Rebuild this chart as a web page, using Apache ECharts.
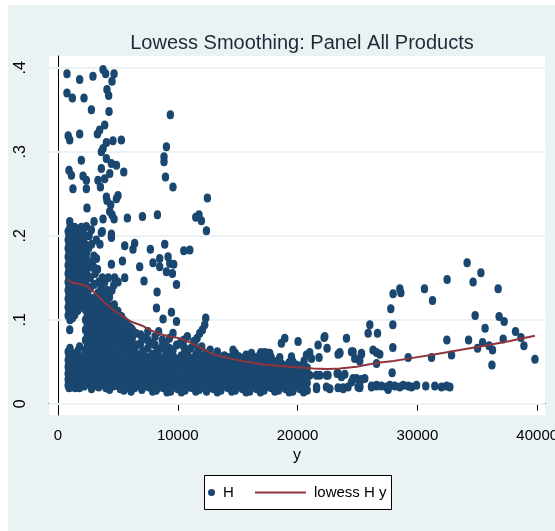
<!DOCTYPE html>
<html>
<head>
<meta charset="utf-8">
<script src="https://cdn.jsdelivr.net/npm/echarts@6/dist/echarts.min.js"></script>
<style>html,body{margin:0;padding:0;background:#fff}#c{width:555px;height:531px}</style>
</head>
<body>
<div id="c"></div>
<script>
// ---- tick labels ----
const xTicks = [0, 10000, 20000, 30000, 40000];
const yTicks = [0, 0.1, 0.2, 0.3, 0.4];
const yTickLabels = ['0', '.1', '.2', '.3', '.4'];

// ---- H: sparse upper points (y > .2) ----
const hUpper = [
 [750,.393],[1810,.386],[2920,.390],[3760,.398],[3980,.393],[4680,.393],[4510,.384],
 [750,.370],[1200,.364],[2170,.364],[4090,.374],[4230,.367],[2790,.350],[4260,.348],[9380,.344],
 [3900,.332],[3480,.326],[3290,.321],[1810,.321],[980,.314],[850,.319],[4040,.311],[4590,.313],[5290,.314],
 [3760,.304],[3620,.300],[9050,.306],[8850,.294],[8850,.288],
 [1950,.290],[4040,.292],[4460,.286],[4880,.284],[3620,.280],[920,.278],[1120,.272],[2090,.271],
 [2370,.266],[4320,.274],[5490,.276],[3340,.266],[3900,.268],
 [1250,.256],[2370,.256],[3540,.258],[8970,.270],[9600,.258],
 [4040,.246],[4090,.242],[5010,.248],[4880,.244],[4400,.237],[2420,.233],[4320,.229],[4510,.225],
 [4680,.220],[3760,.220],[3010,.217],[980,.217],[5790,.221],[7050,.223],[8300,.225],
 [11500,.222],[11770,.225],[11970,.218],[12470,.245],[12390,.206],
 [1950,.210],[2370,.211],[2790,.207],[1040,.205],[3620,.204],[4460,.202]
];

// ---- H: sparse points between .1 and .2 ----
const hUpperMid = [
 [4460,.198],[5570,.188],[6400,.191],[6260,.184],[7710,.184],[8910,.190],[10500,.182],[11000,.183],
 [8490,.173],[7930,.168],[9190,.175],[9330,.167],[9660,.166],[8490,.163],[9050,.157],[9550,.155],
 [6820,.163],[5380,.170],[4460,.166],[3210,.173],[2790,.163],[7180,.146],[9890,.142],[8270,.133],
 [5570,.150],[4730,.150],[4650,.141],[5010,.145],[8220,.114],[8770,.101],[9470,.109],[9890,.098],[980,.088],
 [12330,.102],[12250,.094],[12060,.088],[11830,.084],[11610,.078],[11330,.074],
 [2100,.205],[2600,.200],[2800,.190],[3200,.195],[3500,.190],[3700,.205],[2400,.180],[3000,.176],
 [2200,.170],[2300,.160],[2700,.150],[3100,.155],[3400,.145],[3600,.138],[2500,.133],[3800,.130],
 [4100,.135],[4300,.127],[2550,.185],[2900,.165],[3300,.160],[3700,.150],[3900,.145],[4200,.150],
 [4500,.135],[2650,.125],[3350,.132]
];

// ---- H: dense left column (x, list of y) ----
const hLeftCols = [
 [850,[.205,.195,.185,.175,.165,.155,.145,.135,.125,.115,.105]],
 [925,[.20,.19,.18,.17,.16,.15,.14,.13,.12,.11]],
 [1000,[.21,.20,.19,.18,.17,.16,.15,.14,.13,.12,.11,.10]],
 [1100,[.20,.185,.17,.155,.14,.125,.11]],
 [1200,[.207,.192,.177,.162,.147,.132,.117,.102]],
 [1300,[.20,.185,.17,.155,.14,.125,.11]],
 [1400,[.21,.196,.181,.166,.151,.136,.121,.106]],
 [1525,[.205,.19,.175,.16,.145,.13,.115]],
 [1650,[.201,.186,.171,.156,.141,.126,.111]],
 [1775,[.197,.182,.167,.152,.137,.122]],
 [1900,[.205,.19,.175,.16,.145,.13,.115]],
 [2025,[.20,.185,.17,.155,.14,.125]],
 [2150,[.198,.183,.165,.15,.135,.12]],
 [2275,[.19,.175,.16,.145,.13]],
 [2400,[.172,.155,.14,.125]],
 [2700,[.168,.138,.122]],
 [3000,[.162,.142,.126]]
];

// ---- H: arm going down to the right ----
const hArmCols = [
 [2300,[.112,.10,.088,.076,.064]],
 [2450,[.106,.094,.082,.07,.058]],
 [2600,[.116,.103,.09,.078,.066,.054]],
 [2750,[.112,.099,.086,.074,.062,.05]],
 [2900,[.121,.108,.095,.082,.07,.058]],
 [3050,[.114,.101,.088,.076,.064]],
 [3200,[.117,.104,.091,.079,.067,.055]],
 [3350,[.12,.107,.094,.082,.07,.058]],
 [3500,[.124,.111,.098,.085,.073,.061]],
 [3650,[.118,.105,.092,.079,.066]],
 [3800,[.12,.107,.094,.081,.069,.057]],
 [3950,[.115,.102,.089,.076,.063]],
 [4100,[.122,.109,.096,.083,.071]],
 [4250,[.113,.10,.087,.074,.061]],
 [4400,[.116,.103,.09,.077,.065]],
 [4550,[.11,.097,.084,.071,.059]],
 [4700,[.118,.105,.092,.079,.067]],
 [4850,[.108,.095,.082,.069]],
 [5000,[.11,.097,.084,.071]],
 [5150,[.10,.087,.074,.062]],
 [5300,[.104,.091,.078,.066]],
 [5500,[.099,.086,.074,.062]],
 [5700,[.096,.083,.07]],
 [5900,[.092,.08,.068]],
 [6100,[.09,.077,.066]]
];

// ---- H: low left column ----
const hLowLeftCols = [
 [850,[.062,.052,.044,.036,.029,.022]],
 [925,[.057,.048,.04,.033,.026,.019]],
 [1000,[.066,.055,.047,.04,.032,.025]],
 [1075,[.061,.051,.043,.036,.028,.021]],
 [1150,[.058,.05,.042,.034,.027,.020]],
 [1250,[.055,.046,.038,.031,.024]],
 [1350,[.054,.045,.037,.03,.022]],
 [1450,[.058,.048,.04,.033,.026,.019]],
 [1550,[.06,.05,.04,.032,.024]],
 [1675,[.063,.053,.043,.034,.025]],
 [1800,[.068,.056,.046,.036,.027,.019]],
 [1950,[.05,.04,.031,.023]]
];

// ---- H: dense bottom band ----
const hBandCols = [
 [2200,[.021,.029,.038,.047,.057]],
 [2500,[.024,.033,.042,.051]],
 [2800,[.018,.026,.034,.043,.052,.061]],
 [3100,[.022,.030,.039,.048,.057]],
 [3400,[.020,.028,.037,.046,.055]],
 [3700,[.023,.031,.040,.049,.058]],
 [4000,[.019,.027,.035,.044,.053,.062]],
 [4300,[.017,.025,.034,.043,.052]],
 [4600,[.021,.030,.039,.048,.057]],
 [4900,[.022,.030,.038,.047,.056]],
 [5200,[.018,.026,.034,.043,.052,.061]],
 [5500,[.016,.022,.030,.039,.048]],
 [5800,[.020,.029,.038,.047,.056]],
 [6100,[.015,.023,.032,.041,.050,.059]],
 [6400,[.019,.027,.036,.045,.054,.063]],
 [6700,[.022,.031,.040,.049,.058]],
 [7000,[.017,.025,.034,.043,.052,.060]],
 [7300,[.021,.030,.039,.048,.056]],
 [7600,[.020,.028,.037,.046,.055]],
 [7900,[.015,.023,.032,.041,.050,.059]],
 [8200,[.016,.024,.033,.042,.051,.060]],
 [8500,[.020,.029,.038,.047,.055]],
 [8800,[.019,.027,.036,.045,.054]],
 [9100,[.014,.023,.032,.040,.049,.058]],
 [9400,[.015,.024,.033,.041,.050,.059]],
 [9700,[.020,.029,.038,.047,.055]],
 [10000,[.018,.026,.035,.044,.053]],
 [10300,[.014,.022,.030,.039,.048,.057]],
 [10600,[.016,.025,.034,.043,.052,.061]],
 [10900,[.020,.029,.038,.047,.056]],
 [11200,[.019,.027,.036,.045,.054]],
 [11500,[.015,.023,.031,.040,.049,.058]],
 [11800,[.017,.026,.035,.044,.053]],
 [12100,[.021,.030,.039,.048,.057]],
 [12400,[.015,.024,.033,.042,.051,.060]],
 [12700,[.019,.028,.037,.046,.055]],
 [13000,[.018,.027,.036,.045,.054]],
 [13300,[.014,.022,.031,.040,.049,.058]],
 [13600,[.016,.025,.034,.043,.052]],
 [13900,[.021,.030,.039,.048,.057]],
 [14200,[.019,.028,.037,.046,.055]],
 [14500,[.015,.023,.032,.041,.050]],
 [14800,[.016,.024,.033,.042,.051,.060]],
 [15100,[.020,.029,.038,.047,.056]],
 [15400,[.018,.027,.036,.045,.054]],
 [15700,[.014,.022,.031,.040,.049,.058]],
 [16000,[.015,.024,.033,.042,.051]],
 [16300,[.020,.029,.038,.047,.056]],
 [16600,[.018,.027,.036,.045,.054]],
 [16900,[.014,.022,.031,.040,.049]],
 [17200,[.016,.025,.034,.043,.052,.060]],
 [17500,[.021,.030,.039,.048,.056]],
 [17800,[.019,.028,.037,.046,.055]],
 [18100,[.015,.023,.032,.041,.050]],
 [18400,[.016,.024,.033,.042,.051]],
 [18700,[.020,.029,.038,.047]],
 [19000,[.018,.027,.036,.045]],
 [19300,[.014,.022,.031,.040,.049]],
 [19600,[.015,.024,.033,.042,.050]],
 [19900,[.020,.029,.038,.046]],
 [20200,[.018,.027,.036,.045]],
 [20500,[.014,.022,.031,.040]],
 [20800,[.016,.025,.034,.043]]
];

// ---- H: scattered points just above the band ----
const hMid = [
 [5500,.07],[5500,.08],[5500,.09],[6200,.068],[6200,.078],[6200,.088],[6900,.072],[6900,.082],
 [7500,.066],[7500,.076],[7500,.086],[8100,.07],[8100,.08],[8700,.068],[8700,.076],[9300,.066],
 [9300,.078],[9900,.07],[10500,.068],[10500,.076],[11100,.066],[11700,.064],[13300,.062],
 [5800,.074],[6500,.084],[6600,.070],[7200,.078],[7800,.072],[8400,.086],[8400,.064],[9000,.072],
 [9600,.084],[9600,.064],[10200,.072],[10800,.080],[10800,.064],[11400,.072],[12000,.068],[12700,.064],
 [5300,.058],[6000,.060],[7100,.063],[9000,.062],
 [18930,.078],[18650,.072],[20040,.074],[22270,.080],[21710,.070],[22460,.066],[23520,.061],
 [23380,.059],[21010,.061],[21160,.054],[20540,.051],[19490,.056],[18510,.055],[16150,.060],
 [16010,.057],[17260,.061],[17680,.060],[16930,.061],[14610,.058],[14900,.057],[13780,.056],
 [13080,.056],[13640,.042],[12530,.046],[22210,.079],[21790,.055],[16840,.058],[17540,.060],
 [20740,.058],[24630,.062],[25330,.060],[26300,.064],[14610,.064]
];

// ---- H: right part (x > 21000) ----
const hRight = [
 [21580,.018],[22690,.018],[23800,.018],[22410,.034],[23380,.036],[21580,.034],[21010,.034],
 [21850,.034],[22540,.034],[23300,.036],[21580,.020],[22410,.020],[23380,.019],[24210,.020],
 [25190,.021],[26170,.020],[24630,.030],[25610,.030],[26590,.021],[23660,.032],
 [34150,.168],[35300,.156],[34650,.145],[32480,.148],[36740,.137],[30590,.137],[31260,.123],
 [28530,.137],[28620,.132],[27970,.131],[27780,.113],[27950,.094],[26030,.094],[25890,.084],
 [26670,.084],[24080,.078],[27950,.067],[34820,.105],[36820,.104],[37240,.098],[35650,.090],
 [38190,.086],[38640,.079],[38890,.069],[39810,.053],[37160,.077],[35440,.073],[34270,.076],
 [32460,.076],[35020,.066],[35990,.069],[36270,.064],[36220,.046],[32850,.058],[31180,.055],
 [29230,.055],[26590,.048],[26590,.061],[26860,.059],[27890,.037],[25330,.059],[24770,.054],
 [25190,.051],[24500,.062],[23520,.060],[23940,.035],[23800,.019],[24500,.026],[24920,.030],
 [25330,.029],[25050,.020],
 [26170,.021],[26590,.022],[27000,.021],[27420,.020],[27700,.022],[28110,.021],[28530,.020],
 [28810,.022],[29230,.021],[29510,.020],[29930,.022],[30700,.021],[31450,.021],[32010,.020],
 [32430,.021],[32710,.020],[27560,.017],[25190,.019]
];

// ---- lowess H y ----
const lowessX = [780,1200,1810,2420,3000,3500,4000,4500,5300,6130,7100,7800,8490,9300,10160,11000,11830,12940,14300,15730,17000,18510,20000,21290,22500,23520,24920,26000,26860,28000,29370,31500,33540,35600,37720,39810];
const lowessY = [.148,.144,.1425,.140,.133,.126,.119,.113,.105,.0976,.0925,.087,.083,.080,.078,.073,.067,.059,.054,.050,.047,.045,.0435,.042,.0415,.042,.044,.047,.049,.051,.054,.059,.064,.069,.0746,.081];

// ---- build ----
function fromCols(cols){ const out=[]; cols.forEach(c=>c[1].forEach(v=>out.push([c[0],v]))); return out; }
const hData = [].concat(hUpper, hUpperMid, fromCols(hLeftCols), fromCols(hArmCols),
  fromCols(hLowLeftCols), fromCols(hBandCols), hMid, hRight);
const lowessData = lowessX.map((x,i)=>[x, lowessY[i]]);

const NAVY = '#1a476f', MAROON = '#90353b', BG = '#eaf2f3';
const FONT = '"Liberation Sans", Arial, sans-serif';

const chart = echarts.init(document.getElementById('c'), null, {renderer:'canvas'});
chart.setOption({
  backgroundColor: BG,
  animation: false,
  title: {
    text: 'Lowess Smoothing: Panel All Products',
    left: 297, textAlign: 'center', top: 28,
    textStyle: { fontFamily: FONT, fontSize: 20, fontWeight: 'normal', color: '#1e2a38' }
  },
  graphic: [
    { type:'rect', shape:{x:0,y:0,width:8,height:531}, style:{fill:'#fff'}, z:1, silent:true },
    { type:'rect', shape:{x:0,y:0,width:555,height:5}, style:{fill:'#fff'}, z:1, silent:true },
    { type:'rect', shape:{x:204.5,y:475.5,width:187,height:34}, style:{fill:'#fff', stroke:'#000', lineWidth:1}, z:1, silent:true }
  ],
  grid: { left: 49, top: 56, right: 10, bottom: 116, show: true, backgroundColor: '#fff', borderWidth: 0,
          outerBoundsMode: 'none', containLabel: false },
  xAxis: {
    type: 'value', min: -750, max: 40650,
    name: 'y', nameLocation: 'middle', nameGap: 23,
    nameTextStyle: { fontFamily: FONT, fontSize: 16, color: '#000' },
    axisLine: { show: true, lineStyle: { color: '#000', width: 1 } },
    axisTick: { show: true, length: 7, customValues: xTicks, lineStyle: { color: '#000' } },
    axisLabel: { customValues: xTicks, margin: 13, fontFamily: FONT, fontSize: 15, color: '#000',
      formatter: v => String(Math.round(v)) },
    splitLine: { show: false }
  },
  yAxis: {
    type: 'value', min: -0.0134, max: 0.414,
    axisLine: { show: true, lineStyle: { color: '#000', width: 1 } },
    axisTick: { show: true, length: 7, customValues: yTicks, lineStyle: { color: '#000' } },
    axisLabel: { customValues: yTicks, rotate: 90, margin: 20, fontFamily: FONT, fontSize: 16, color: '#000',
      formatter: v => { const i = yTicks.findIndex(t => Math.abs(t - v) < 1e-9); return i >= 0 ? yTickLabels[i] : ''; } },
    splitLine: { show: false }
  },
  legend: [
    { data: [{ name: 'H', icon: 'circle' }], left: 208, top: 485, padding: 0, itemWidth: 7, itemHeight: 8, itemGap: 0,
      textStyle: { fontFamily: FONT, fontSize: 15, color: '#000', padding: [0,0,0,3] } },
    { data: [{ name: 'lowess H y', icon: 'rect' }], left: 255, top: 485, padding: 0, itemWidth: 51, itemHeight: 2,
      textStyle: { fontFamily: FONT, fontSize: 15, color: '#000', padding: [0,0,0,3] } }
  ],
  series: [
    { type: 'line', name: 'grid', data: [], z: 1, zlevel: 0, silent: true,
      markLine: { silent: true, z: 1, symbol: 'none', label: { show: false },
        lineStyle: { color: BG, width: 2, type: 'solid' },
        data: yTicks.map(v => ({ yAxis: v })) } },
    { type: 'scatter', name: 'H', data: hData, symbol: 'circle', symbolSize: [7.4, 9], z: 3,
      itemStyle: { color: NAVY, opacity: 1 } },
    { type: 'line', name: 'lowess H y', data: lowessData, showSymbol: false, symbol: 'none', z: 4,
      lineStyle: { color: MAROON, width: 2 }, itemStyle: { color: MAROON } }
  ]
});
</script>
</body>
</html>
